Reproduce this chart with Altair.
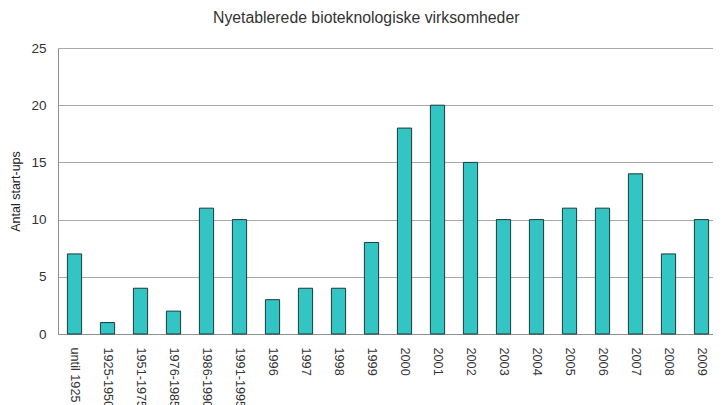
import altair as alt
import pandas as pd

categories = ["until 1925", "1925-1950", "1951-1975", "1976-1985", "1986-1990",
              "1991-1995", "1996", "1997", "1998", "1999", "2000", "2001", "2002",
              "2003", "2004", "2005", "2006", "2007", "2008", "2009"]
values = [7, 1, 4, 2, 11, 10, 3, 4, 4, 8, 18, 20, 15, 10, 10, 11, 11, 14, 7, 10]

df = pd.DataFrame({"cat": categories, "val": values})

font = "Liberation Sans"

chart = alt.Chart(df).mark_bar(
    color="#33c4c4", stroke="#1e3a3a", strokeWidth=1
).encode(
    x=alt.X("cat:N", sort=categories, title=None,
            scale=alt.Scale(paddingInner=0.57, paddingOuter=0.285),
            axis=alt.Axis(labelAngle=90, labelAlign="left", labelBaseline="middle",
                          labelPadding=13, ticks=False, domainColor="#909090",
                          labelFont=font, labelFontSize=12.7, labelColor="#333333",
                          labelOverlap=False)),
    y=alt.Y("val:Q", title="Antal start-ups",
            scale=alt.Scale(domain=[0, 25]),
            axis=alt.Axis(values=[0, 5, 10, 15, 20, 25], ticks=False, labelPadding=12,
                          domainColor="#909090", gridColor="#a8a8a8",
                          labelFont=font, labelFontSize=13.5, labelColor="#333333",
                          titleFont=font, titleFontSize=12.5, titleFontWeight="normal",
                          titleColor="#222222", titlePadding=8)),
).properties(
    width=660, height=286,
    title=alt.TitleParams("Nyetablerede bioteknologiske virksomheder", anchor="start",
                          frame="group", dx=155, font=font, fontSize=15.8,
                          fontWeight="normal", color="#333333", offset=14),
    autosize=alt.AutoSizeParams(type="none"),
    padding={"left": 50, "top": 40, "right": -5, "bottom": 71},
).configure_view(stroke=None)

chart.save("out.html", embed_options={"renderer": "svg", "actions": False})
